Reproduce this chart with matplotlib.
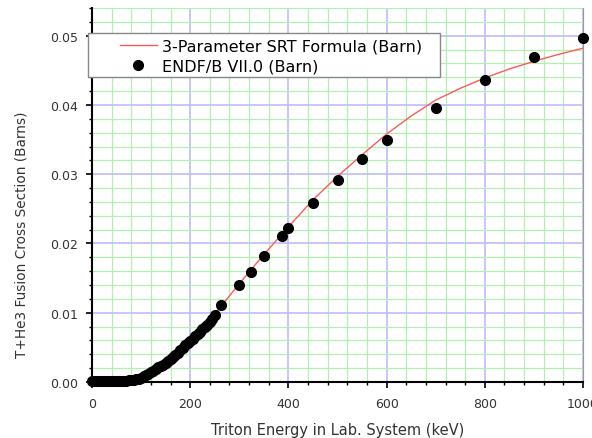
import matplotlib
matplotlib.use("Agg")
import matplotlib.pyplot as plt
from matplotlib.patches import Rectangle
from matplotlib.ticker import MultipleLocator, FormatStrFormatter

# ---- data ------------------------------------------------------------
endf_energy = [0, 5, 10, 15, 20, 25, 30, 35, 40, 45, 50, 55, 60, 65, 70,
               75, 80, 85, 90, 95, 100, 105, 110, 115, 120, 125, 130, 135,
               140, 145, 150, 155, 160, 165, 170, 175, 180, 185, 190, 195,
               200, 205, 210, 215, 220, 225, 230, 235, 240, 245, 250,
               263, 299, 324, 351, 386, 400, 450, 500, 550, 600, 700, 800,
               900, 1000]
endf_sigma = [0.0002, 0.0002, 0.0002, 0.0002, 0.0002, 0.0002, 0.0002,
              0.0002, 0.0002, 0.0002, 0.0002, 0.0002, 0.0002, 0.0002,
              0.0002, 0.0003, 0.0003, 0.0003, 0.0004, 0.0005, 0.0006,
              0.0008, 0.0010, 0.0012, 0.0014, 0.0016, 0.0019, 0.0021,
              0.0023, 0.0025, 0.0027, 0.0030, 0.0033, 0.0036, 0.0039,
              0.0042, 0.0046, 0.0049, 0.0053, 0.0056, 0.0059, 0.0062,
              0.0066, 0.0069, 0.0072, 0.0076, 0.0079, 0.0083, 0.0087,
              0.0091, 0.0097,
              0.0111, 0.0140, 0.0159, 0.0182, 0.0211, 0.0223, 0.0259,
              0.0291, 0.0322, 0.0349, 0.0396, 0.0436, 0.0469, 0.0496]

srt_energy = [0, 50, 100, 125, 150, 175, 200, 225, 250, 275, 300, 325,
              350, 375, 400, 450, 500, 550, 600, 650, 700, 750, 800, 850,
              900, 950, 1000]
srt_sigma = [0.0, 0.0, 0.0003, 0.0012, 0.0025, 0.0041, 0.0058, 0.0078,
             0.0098, 0.0120, 0.0142, 0.0163, 0.0184, 0.0204, 0.0224,
             0.0263, 0.0297, 0.0328, 0.0358, 0.0384, 0.0407, 0.0424,
             0.0439, 0.0452, 0.0463, 0.0473, 0.0482]

plt.rcParams["font.family"] = ["DejaVu Sans"]

fig = plt.figure(figsize=(5.92, 4.39), dpi=100)
ax = fig.add_axes([92 / 592, 56 / 439, 491 / 592, 374 / 439])

ax.plot(srt_energy, srt_sigma, color="#ff5a5a", lw=1.0, zorder=3,
        label="3-Parameter SRT Formula (Barn)")
ax.plot(endf_energy, endf_sigma, ls="none", marker="o", ms=7,
        color="black", zorder=4, clip_on=False,
        label="ENDF/B VII.0 (Barn)")

ax.set_xlim(0, 1000)
ax.set_ylim(0, 0.054)
ax.xaxis.set_major_locator(MultipleLocator(200))
ax.xaxis.set_minor_locator(MultipleLocator(40))
ax.yaxis.set_major_locator(MultipleLocator(0.01))
ax.yaxis.set_minor_locator(MultipleLocator(0.002))
ax.yaxis.set_major_formatter(FormatStrFormatter("%.2f"))

ax.grid(which="minor", color="#b2f0b2", lw=0.9)
ax.grid(which="major", color="#bcbcfa", lw=1.2)
ax.set_axisbelow(True)

ax.spines["top"].set_visible(False)
ax.spines["right"].set_color("#999999")
ax.spines["left"].set_linewidth(1.5)
ax.spines["bottom"].set_linewidth(1.5)
ax.tick_params(which="major", direction="out", length=4, width=1.2,
               labelsize=9, pad=6, colors="black")
ax.tick_params(which="minor", direction="out", length=2.5, width=1)
ax.tick_params(axis="x", pad=7)
for t in ax.get_xticklabels() + ax.get_yticklabels():
    t.set_color("#333333")

ax.set_xlabel("Triton Energy in Lab. System (keV)", fontsize=10.5,
              color="#333333")
ax.xaxis.set_label_coords(0.5, -0.108)
ax.set_ylabel("T+He3 Fusion Cross Section (Barns)", fontsize=9.8,
              color="#333333")
ax.yaxis.set_label_coords(-0.13, 0.396)

# legend box (frame drawn separately so the padding can match)
fig.patches.append(Rectangle((88 / 592, 1 - 78 / 439), 352 / 592,
                             44 / 439, transform=fig.transFigure,
                             facecolor="white", edgecolor="#888888",
                             lw=1.0, zorder=3))
fig.legend(loc="upper left", bbox_to_anchor=(120 / 592, 1 - 40 / 439),
           frameon=False, fontsize=11.5, borderpad=0, borderaxespad=0,
           handlelength=2.3, handletextpad=0.3, labelspacing=0.3)

fig.savefig("out.png", dpi=100)
